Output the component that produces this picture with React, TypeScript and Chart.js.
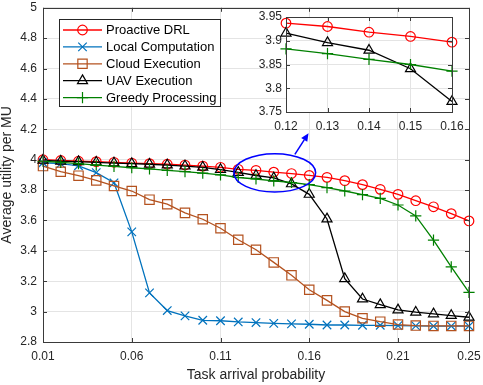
import React, { useEffect, useRef } from "react";
import { Chart, registerables } from "chart.js";

Chart.register(...registerables);

const TASK_PROB = [0.01, 0.02, 0.03, 0.04, 0.05, 0.06, 0.07, 0.08, 0.09, 0.1, 0.11, 0.12, 0.13, 0.14, 0.15, 0.16, 0.17, 0.18, 0.19, 0.2, 0.21, 0.22, 0.23, 0.24, 0.25];

const PROACTIVE_DRL = [4.0, 3.995, 3.99, 3.987, 3.983, 3.978, 3.974, 3.97, 3.965, 3.958, 3.95, 3.937, 3.93, 3.918, 3.909, 3.897, 3.884, 3.862, 3.836, 3.805, 3.772, 3.73, 3.69, 3.645, 3.597];
const LOCAL_COMPUTATION = [3.98, 3.974, 3.96, 3.915, 3.848, 3.525, 3.123, 3.007, 2.972, 2.943, 2.94, 2.932, 2.928, 2.923, 2.919, 2.917, 2.912, 2.912, 2.91, 2.91, 2.908, 2.906, 2.905, 2.905, 2.905];
const CLOUD_EXECUTION = [3.958, 3.921, 3.895, 3.864, 3.827, 3.794, 3.737, 3.707, 3.65, 3.608, 3.549, 3.473, 3.407, 3.324, 3.239, 3.144, 3.074, 3.0, 2.956, 2.934, 2.915, 2.908, 2.906, 2.906, 2.906];
const UAV_EXECUTION = [3.996, 3.99, 3.987, 3.983, 3.978, 3.974, 3.97, 3.965, 3.958, 3.95, 3.935, 3.916, 3.896, 3.88, 3.841, 3.772, 3.61, 3.217, 3.083, 3.046, 3.011, 2.996, 2.985, 2.974, 2.963];
const GREEDY_PROCESSING = [3.99, 3.983, 3.974, 3.965, 3.956, 3.947, 3.939, 3.93, 3.921, 3.912, 3.9, 3.883, 3.873, 3.861, 3.85, 3.836, 3.816, 3.794, 3.77, 3.746, 3.702, 3.63, 3.47, 3.295, 3.127];

const SERIES_NAMES = ["Proactive DRL", "Local Computation", "Cloud Execution", "UAV Execution", "Greedy Processing"];

const X_TICKS = [0.01, 0.06, 0.11, 0.16, 0.21, 0.25];
const X_TICK_LABELS = ["0.01", "0.06", "0.11", "0.16", "0.21", "0.25"];
const Y_TICKS = [2.8, 3, 3.2, 3.4, 3.6, 3.8, 4, 4.2, 4.4, 4.6, 4.8, 5];
const Y_TICK_LABELS = ["2.8", "3", "3.2", "3.4", "3.6", "3.8", "4", "4.2", "4.4", "4.6", "4.8", "5"];

const INSET_X_TICKS = [0.12, 0.13, 0.14, 0.15, 0.16];
const INSET_X_LABELS = ["0.12", "0.13", "0.14", "0.15", "0.16"];
const INSET_Y_TICKS = [3.75, 3.8, 3.85, 3.9, 3.95];
const INSET_Y_LABELS = ["3.75", "3.8", "3.85", "3.9", "3.95"];

const X_LABEL = "Task arrival probability";
const Y_LABEL = "Average utility per MU";

const FONT = "'Liberation Sans', Arial, Helvetica, sans-serif";
const TEXT_COLOR = "#262626";
const GRID_COLOR = "#e4e4e4";

const STYLES = [
  { color: "#ff0000", point: "circle", radius: 4.8 },
  { color: "#0072BD", point: "crossRot", radius: 6 },
  { color: "#b4521f", point: "rect", radius: 6.6 },
  { color: "#000000", point: "triangle", radius: 5.8 },
  { color: "#008000", point: "cross", radius: 5.6 },
];

const ALL_SERIES = [PROACTIVE_DRL, LOCAL_COMPUTATION, CLOUD_EXECUTION, UAV_EXECUTION, GREEDY_PROCESSING];

function makeDatasets(xs: number[], series: number[][]) {
  return series.map((vals, i) => ({
    label: SERIES_NAMES[i],
    data: xs.map((x, j) => ({ x, y: vals[j] })),
    borderColor: STYLES[i].color,
    backgroundColor: "rgba(0,0,0,0)",
    borderWidth: 1.3,
    pointStyle: STYLES[i].point,
    pointRadius: STYLES[i].radius,
    pointBorderWidth: 1.2,
    pointBorderColor: STYLES[i].color,
    pointBackgroundColor: "rgba(0,0,0,0)",
    tension: 0,
    order: series.length - 1 - i,
    clip: false,
  }));
}

function drawMarker(ctx: CanvasRenderingContext2D, style: string, x: number, y: number, r: number) {
  ctx.beginPath();
  if (style === "circle") {
    ctx.arc(x, y, r, 0, Math.PI * 2);
  } else if (style === "rect") {
    const s = r * Math.SQRT1_2;
    ctx.rect(x - s, y - s, 2 * s, 2 * s);
  } else if (style === "triangle") {
    for (let k = 0; k < 3; k++) {
      const a = (k * 2 * Math.PI) / 3;
      const px = x + Math.sin(a) * r;
      const py = y - Math.cos(a) * r;
      if (k === 0) ctx.moveTo(px, py);
      else ctx.lineTo(px, py);
    }
    ctx.closePath();
  } else if (style === "cross") {
    ctx.moveTo(x - r, y);
    ctx.lineTo(x + r, y);
    ctx.moveTo(x, y - r);
    ctx.lineTo(x, y + r);
  } else if (style === "crossRot") {
    const d = r * Math.SQRT1_2;
    ctx.moveTo(x - d, y - d);
    ctx.lineTo(x + d, y + d);
    ctx.moveTo(x - d, y + d);
    ctx.lineTo(x + d, y - d);
  }
  ctx.stroke();
}

function boxPlugin(id: string, fillArea: boolean) {
  return {
    id,
    beforeDraw(chart: any) {
      if (!fillArea) return;
      const { ctx, chartArea: a } = chart;
      ctx.save();
      ctx.fillStyle = "#ffffff";
      ctx.fillRect(a.left, a.top, a.right - a.left, a.bottom - a.top);
      ctx.restore();
    },
    afterDraw(chart: any) {
      const { ctx, chartArea: a, scales } = chart;
      ctx.save();
      ctx.strokeStyle = "#3a3a3a";
      ctx.lineWidth = 1;
      ctx.strokeRect(Math.round(a.left) + 0.5, Math.round(a.top) + 0.5, Math.round(a.right - a.left), Math.round(a.bottom - a.top));
      const tl = 4;
      ctx.beginPath();
      scales.x.ticks.forEach((t: any) => {
        const px = Math.round(scales.x.getPixelForValue(t.value)) + 0.5;
        ctx.moveTo(px, a.bottom);
        ctx.lineTo(px, a.bottom - tl);
        ctx.moveTo(px, a.top);
        ctx.lineTo(px, a.top + tl);
      });
      scales.y.ticks.forEach((t: any) => {
        const py = Math.round(scales.y.getPixelForValue(t.value)) + 0.5;
        ctx.moveTo(a.left, py);
        ctx.lineTo(a.left + tl, py);
        ctx.moveTo(a.right, py);
        ctx.lineTo(a.right - tl, py);
      });
      ctx.stroke();
      ctx.restore();
    },
  };
}

const legendPlugin = {
  id: "customLegend",
  afterDraw(chart: any) {
    const { ctx } = chart;
    const left = 59.5, top = 19.5, w = 161, h = 87;
    ctx.save();
    ctx.fillStyle = "#ffffff";
    ctx.fillRect(left, top, w, h);
    ctx.strokeStyle = "#262626";
    ctx.lineWidth = 1;
    ctx.strokeRect(left, top, w, h);
    ctx.font = `13px ${FONT}`;
    ctx.textBaseline = "middle";
    ctx.textAlign = "left";
    SERIES_NAMES.forEach((name, i) => {
      const y = 30 + i * 16.9;
      const st = STYLES[i];
      ctx.strokeStyle = st.color;
      ctx.lineWidth = 1.3;
      ctx.beginPath();
      ctx.moveTo(63, y);
      ctx.lineTo(102, y);
      ctx.stroke();
      ctx.lineWidth = 1.2;
      drawMarker(ctx, st.point, 82.5, y, st.radius);
      ctx.fillStyle = "#000000";
      ctx.fillText(name, 106, y + 0.5);
    });
    ctx.restore();
  },
};

const annotationPlugin = {
  id: "zoomAnnotation",
  afterDatasetsDraw(chart: any) {
    const { ctx, scales } = chart;
    const xs = scales.x, ys = scales.y;
    const x1 = xs.getPixelForValue(0.1175), x2 = xs.getPixelForValue(0.1636);
    const y1 = ys.getPixelForValue(4.04), y2 = ys.getPixelForValue(3.787);
    ctx.save();
    ctx.strokeStyle = "#0000ff";
    ctx.fillStyle = "#0000ff";
    ctx.lineWidth = 1.5;
    ctx.beginPath();
    ctx.ellipse((x1 + x2) / 2, (y1 + y2) / 2, (x2 - x1) / 2, (y2 - y1) / 2, 0, 0, Math.PI * 2);
    ctx.stroke();
    const ax = xs.getPixelForValue(0.1519), ay = ys.getPixelForValue(4.035);
    const bx = xs.getPixelForValue(0.1596), by = ys.getPixelForValue(4.175);
    const ang = Math.atan2(by - ay, bx - ax);
    const hl = 8, hw = 3.6;
    const baseX = bx - Math.cos(ang) * hl, baseY = by - Math.sin(ang) * hl;
    ctx.beginPath();
    ctx.moveTo(ax, ay);
    ctx.lineTo(baseX, baseY);
    ctx.stroke();
    ctx.beginPath();
    ctx.moveTo(bx, by);
    ctx.lineTo(baseX - Math.sin(ang) * hw, baseY + Math.cos(ang) * hw);
    ctx.lineTo(baseX + Math.sin(ang) * hw, baseY - Math.cos(ang) * hw);
    ctx.closePath();
    ctx.fill();
    ctx.restore();
  },
};

function fitX(h: number) {
  return (s: any) => {
    s.height = h;
    s.paddingLeft = 0;
    s.paddingRight = 0;
  };
}
function fitY(w: number) {
  return (s: any) => {
    s.width = w;
    s.paddingTop = 0;
    s.paddingBottom = 0;
  };
}

export default function App() {
  const mainRef = useRef<HTMLCanvasElement>(null);
  const insetRef = useRef<HTMLCanvasElement>(null);

  useEffect(() => {
    const main = new Chart(mainRef.current as HTMLCanvasElement, {
      type: "line",
      data: { datasets: makeDatasets(TASK_PROB, ALL_SERIES) as any },
      options: {
        responsive: false,
        animation: false,
        devicePixelRatio: 1,
        layout: { padding: { top: 7, right: 14, bottom: 0, left: 0 } },
        plugins: { legend: { display: false }, tooltip: { enabled: false } },
        scales: {
          x: {
            type: "linear",
            min: 0.01,
            max: 0.25,
            afterBuildTicks: (s: any) => {
              s.ticks = X_TICKS.map((v) => ({ value: v }));
            },
            afterFit: fitX(43),
            ticks: {
              autoSkip: false,
              maxRotation: 0,
              padding: 7,
              color: TEXT_COLOR,
              font: { family: FONT, size: 12 },
              callback: (v: any) => X_TICK_LABELS[X_TICKS.indexOf(Number(v))] ?? "",
            },
            grid: { color: GRID_COLOR, drawTicks: false },
            border: { display: false },
            title: {
              display: true,
              text: X_LABEL,
              color: TEXT_COLOR,
              font: { family: FONT, size: 14, lineHeight: 1 },
              padding: { top: 0, bottom: 3 },
            },
          },
          y: {
            type: "linear",
            min: 2.8,
            max: 5,
            afterBuildTicks: (s: any) => {
              s.ticks = Y_TICKS.map((v) => ({ value: v }));
            },
            afterFit: fitY(43),
            ticks: {
              autoSkip: false,
              padding: 6,
              color: TEXT_COLOR,
              font: { family: FONT, size: 12 },
              callback: (v: any) => {
                const i = Y_TICKS.findIndex((t) => Math.abs(t - Number(v)) < 1e-6);
                return i >= 0 ? Y_TICK_LABELS[i] : "";
              },
            },
            grid: { color: GRID_COLOR, drawTicks: false },
            border: { display: false },
            title: {
              display: true,
              text: Y_LABEL,
              color: TEXT_COLOR,
              font: { family: FONT, size: 14, lineHeight: 1 },
              padding: { top: 0, bottom: 0 },
            },
          },
        },
      },
      plugins: [boxPlugin("mainBox", false), annotationPlugin, legendPlugin],
    });

    const insetIdx = TASK_PROB.map((x, i) => (x >= 0.1199 && x <= 0.1601 ? i : -1)).filter((i) => i >= 0);
    const insetX = insetIdx.map((i) => TASK_PROB[i]);
    const insetDs = makeDatasets(
      insetX,
      ALL_SERIES.map((s) => insetIdx.map((i) => s[i]))
    ).filter((_, i) => i === 0 || i === 3 || i === 4);

    const inset = new Chart(insetRef.current as HTMLCanvasElement, {
      type: "line",
      data: { datasets: insetDs as any },
      options: {
        responsive: false,
        animation: false,
        devicePixelRatio: 1,
        layout: { padding: { top: 17, right: 31, bottom: 249, left: 246 } },
        plugins: { legend: { display: false }, tooltip: { enabled: false } },
        scales: {
          x: {
            type: "linear",
            min: 0.12,
            max: 0.16,
            afterBuildTicks: (s: any) => {
              s.ticks = INSET_X_TICKS.map((v) => ({ value: v }));
            },
            afterFit: fitX(24),
            ticks: {
              autoSkip: false,
              maxRotation: 0,
              padding: 7,
              color: TEXT_COLOR,
              font: { family: FONT, size: 12 },
              callback: (v: any) => {
                const i = INSET_X_TICKS.findIndex((t) => Math.abs(t - Number(v)) < 1e-6);
                return i >= 0 ? INSET_X_LABELS[i] : "";
              },
            },
            grid: { color: GRID_COLOR, drawTicks: false },
            border: { display: false },
          },
          y: {
            type: "linear",
            min: 3.75,
            max: 3.95,
            afterBuildTicks: (s: any) => {
              s.ticks = INSET_Y_TICKS.map((v) => ({ value: v }));
            },
            afterFit: fitY(40),
            ticks: {
              autoSkip: false,
              padding: 4,
              color: TEXT_COLOR,
              font: { family: FONT, size: 12 },
              callback: (v: any) => {
                const i = INSET_Y_TICKS.findIndex((t) => Math.abs(t - Number(v)) < 1e-6);
                return i >= 0 ? INSET_Y_LABELS[i] : "";
              },
            },
            grid: { color: GRID_COLOR, drawTicks: false },
            border: { display: false },
          },
        },
      },
      plugins: [boxPlugin("insetBox", true)],
    });

    return () => {
      main.destroy();
      inset.destroy();
    };
  }, []);

  return (
    <div style={{ position: "fixed", left: 0, top: 0, width: 483, height: 385, background: "#ffffff" }}>
      <canvas ref={mainRef} width={483} height={385} style={{ position: "absolute", left: 0, top: 0 }} />
      <canvas ref={insetRef} width={483} height={385} style={{ position: "absolute", left: 0, top: 0 }} />
    </div>
  );
}
